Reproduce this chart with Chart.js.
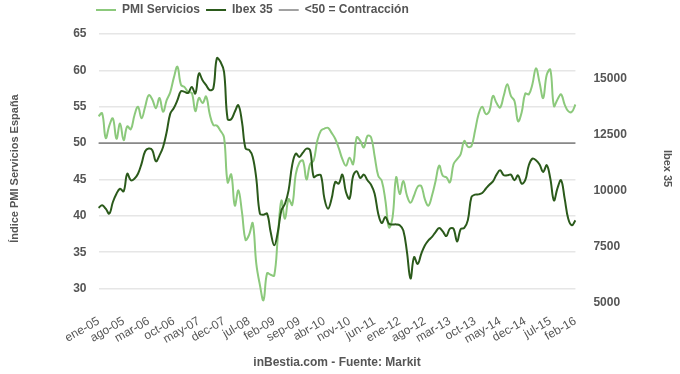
<!DOCTYPE html>
<html>
<head>
<meta charset="utf-8">
<script src="https://cdn.jsdelivr.net/npm/chart.js@4.4.1/dist/chart.umd.min.js"></script>
<style>
  html, body { margin: 0; padding: 0; background: #fff; }
  #wrap { width: 680px; height: 374px; }
</style>
</head>
<body>
<div id="wrap"><canvas id="pmiChart"></canvas></div>
<script>
// meses ene-05 .. feb-16
var mesesAbr = ['ene','feb','mar','abr','may','jun','jul','ago','sep','oct','nov','dec'];
var categorias = [];
for (var a = 5; a <= 16; a++) {
  for (var m = 0; m < 12; m++) {
    if (a == 16 && m > 1) break;
    categorias.push(mesesAbr[m] + '-' + (a < 10 ? '0' + a : a));
  }
}

var etiquetasX = ['ene-05','ago-05','mar-06','oct-06','may-07','dec-07','jul-08','feb-09','sep-09','abr-10',
  'nov-10','jun-11','ene-12','ago-12','mar-13','oct-13','may-14','dec-14','jul-15','feb-16'];

var pmiServicios = [
  53.7, 54.1, 50.7, 52.4, 53.4, 50.6, 52.7, 50.4, 52.3, 51.9, 53.8, 55.0,
  53.4, 55.0, 56.6, 56.0, 54.8, 56.2, 54.3, 55.9, 57.0, 59.0, 60.5, 58.0,
  57.7, 57.0, 56.9, 54.4, 56.2, 55.5, 56.4, 54.0, 52.5, 52.4, 51.7, 50.8,
  44.6, 45.7, 41.4, 43.5, 40.5, 36.7, 37.4, 39.0, 33.4, 30.5, 28.4, 32.1,
  31.9, 31.8, 37.1, 42.1, 39.6, 42.3, 41.5, 45.7, 47.3, 47.6, 45.0, 47.1,
  47.6, 50.3, 51.7, 52.0, 52.1, 51.4, 50.6, 49.3, 47.8, 46.9, 48.0, 47.1,
  50.8, 50.3, 49.4, 51.0, 50.8, 48.2, 45.5, 44.8, 42.1, 38.4, 39.8, 45.3,
  43.0, 44.8, 42.8, 41.8, 42.8, 44.0, 44.1, 42.3, 41.4, 42.8, 44.8, 46.9,
  45.5, 45.3, 44.6, 47.1, 47.8, 48.5, 50.3, 49.5, 49.6, 51.7, 54.0, 55.0,
  54.0, 54.4, 56.5, 55.5, 54.9, 56.5, 58.1, 56.5, 55.8, 53.0, 54.2, 56.8,
  56.7, 58.1, 60.3, 58.3, 56.2, 59.4, 60.1, 55.1, 56.0, 56.7, 55.3, 54.4,
  54.3, 55.3
];

var ibex35 = [
  9250, 9360, 9210, 8990, 9510, 9880, 10100, 9985, 10770, 10480, 10550, 10770,
  11220, 11770, 11890, 11815, 11325, 11590, 11960, 12630, 13450, 13700, 14050, 14450,
  14420, 14375, 14640, 14345, 15240, 14940, 14720, 14500, 14570, 15920, 15760, 15310,
  13200, 13200, 13530, 13825, 13080, 11890, 11830, 11520, 10550, 8990, 8940, 8990,
  8170, 7575, 8170, 9140, 9430, 10030, 11150, 11670, 11520, 11710, 11890, 11815,
  10625, 10700, 10700, 9660, 9210, 9660, 10400, 10330, 10730, 9955, 9660, 10670,
  10880, 10580, 10730, 10480, 10280, 9880, 8990, 8570, 8840, 8540, 8510, 8510,
  8470, 8240, 7300, 6100, 7050, 6750, 7200, 7570, 7800, 7950, 8170, 8350,
  8200, 7990, 8320, 8320, 7750, 8300, 8350, 8700, 9730, 9840, 9850, 9910,
  10100, 10280, 10430, 10730, 10920, 10700, 10700, 10730, 10480, 10700, 10330, 10480,
  11150, 11440, 11370, 11180, 10850, 11150, 10550, 9580, 10130, 10480, 9660, 8760,
  8470, 8690
];

var ticksPmi = [30, 35, 40, 45, 50, 55, 60, 65];
var ticksIbex = [5000, 7500, 10000, 12500, 15000];
var umbral = 50;

Chart.defaults.font.family = '"Liberation Sans", Arial, sans-serif';
Chart.defaults.color = '#555';

// mover la leyenda arriba a la izquierda como en el original
var moverLeyenda = {
  id: 'moverLeyenda',
  afterLayout: function(chart) {
    chart.legend.left += 82;
    chart.legend.right += 82;
    chart.legend.top -= 8;
    chart.legend.bottom -= 8;
  }
};

var ctx = document.getElementById('pmiChart').getContext('2d');
var pmiChart = new Chart(ctx, {
  type: 'line',
  data: {
    labels: categorias,
    datasets: [{
      label: 'PMI Servicios',
      data: pmiServicios,
      borderColor: '#8cc97c',
      backgroundColor: '#8cc97c',
      borderWidth: 2,
      pointRadius: 0,
      tension: 0.4,
      yAxisID: 'yPmi',
      order: 2
    }, {
      label: 'Ibex 35',
      data: ibex35,
      borderColor: '#2b5a1b',
      backgroundColor: '#2b5a1b',
      borderWidth: 2,
      pointRadius: 0,
      tension: 0.4,
      yAxisID: 'yIbex',
      order: 1
    }, {
      label: '<50 = Contracción',
      data: [{x: categorias[0], y: umbral}, {x: categorias[categorias.length - 1], y: umbral}],
      borderColor: '#444',
      backgroundColor: '#444',
      borderWidth: 1,
      pointRadius: 0,
      yAxisID: 'yPmi',
      order: 3
    }]
  },
  options: {
    responsive: true,
    maintainAspectRatio: false,
    animation: false,
    layout: { padding: { left: 8, right: 6, top: 6, bottom: 4 } },
    plugins: {
      legend: {
        position: 'top',
        align: 'start',
        labels: {
          usePointStyle: true,
          pointStyle: 'line',
          pointStyleWidth: 20,
          padding: 6,
          color: '#555',
          font: { size: 12, weight: 'bold' },
          sort: function(a, b) { return a.datasetIndex - b.datasetIndex; }
        }
      },
      tooltip: { enabled: false }
    },
    scales: {
      x: {
        offset: false,
        grid: { display: false },
        border: { display: false },
        ticks: {
          autoSkip: false,
          maxRotation: 30,
          minRotation: 30,
          color: '#555',
          font: { size: 12 },
          callback: function(v, i) {
            var l = categorias[i];
            return etiquetasX.indexOf(l) >= 0 ? l : '';
          }
        },
        title: {
          display: true,
          text: 'inBestia.com - Fuente: Markit',
          color: '#555',
          font: { size: 12, weight: 'bold' },
          padding: { top: 6, bottom: 0 }
        }
      },
      yPmi: {
        position: 'left',
        min: 28,
        max: 65,
        afterBuildTicks: function(axis) {
          axis.ticks = ticksPmi.map(function(v) { return { value: v }; });
        },
        grid: { color: '#e6e6e6', lineWidth: 1.5, drawTicks: false },
        border: { display: false },
        ticks: { color: '#555', padding: 12, font: { size: 12, weight: 'bold' } },
        title: {
          display: true,
          text: 'Índice PMI Servicios España',
          color: '#555',
          font: { size: 11, weight: 'bold' },
          padding: { top: 0, bottom: 40 }
        }
      },
      yIbex: {
        position: 'right',
        min: 5000,
        max: 17000,
        afterBuildTicks: function(axis) {
          axis.ticks = ticksIbex.map(function(v) { return { value: v }; });
        },
        grid: { display: false },
        border: { display: false },
        ticks: {
          color: '#555',
          padding: 10,
          font: { size: 12, weight: 'bold' },
          callback: function(v) { return String(v); }
        },
        title: {
          display: true,
          text: 'Ibex 35',
          color: '#555',
          font: { size: 11, weight: 'bold' },
          padding: { top: 0, bottom: 24 }
        }
      }
    }
  },
  plugins: [moverLeyenda]
});
</script>
</body>
</html>
